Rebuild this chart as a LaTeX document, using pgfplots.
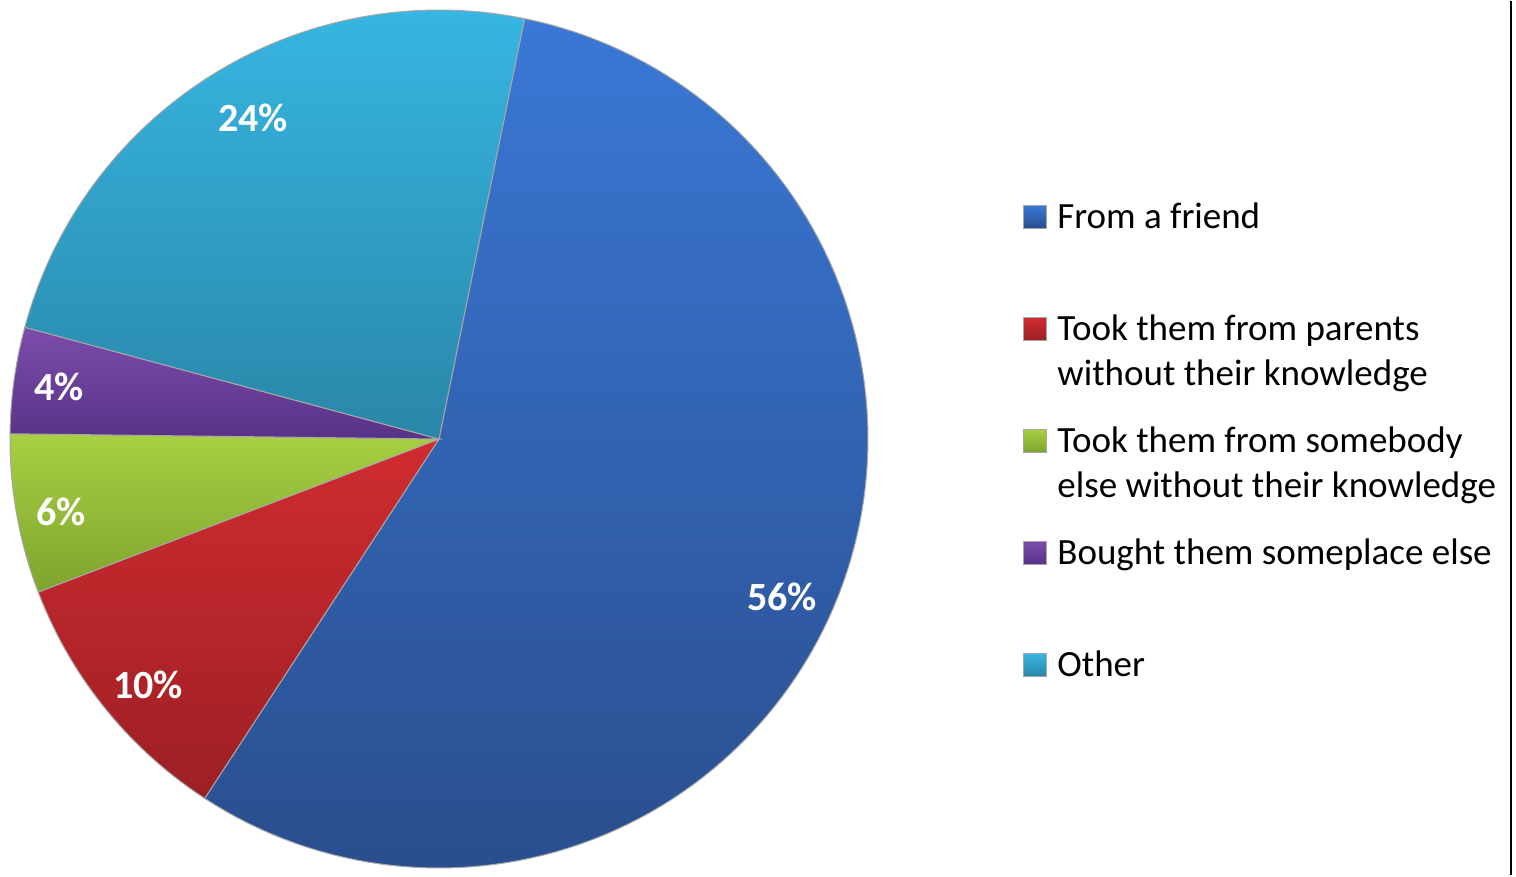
\documentclass[border=0pt]{standalone}
\usepackage{pgfplots}
\pgfplotsset{compat=1.18}
\usepackage{pgfplotstable}
\usepackage{fontspec}
\setmainfont{Carlito}

\definecolor{friendT}{HTML}{3A78D6}\definecolor{friendB}{HTML}{2A4E8E}
\definecolor{parentT}{HTML}{D02C30}\definecolor{parentB}{HTML}{9C1F24}
\definecolor{someT}{HTML}{A8D042}\definecolor{someB}{HTML}{7EA42E}
\definecolor{boughtT}{HTML}{7C4CAC}\definecolor{boughtB}{HTML}{583286}
\definecolor{otherT}{HTML}{36B6E2}\definecolor{otherB}{HTML}{2A86A8}

\pgfplotstableread{
label value
friend 56
parents 10
somebody 6
bought 4
other 24
}\piedata

\pgfplotstablegetelem{0}{value}\of\piedata\edef\vA{\pgfplotsretval}
\pgfplotstablegetelem{1}{value}\of\piedata\edef\vB{\pgfplotsretval}
\pgfplotstablegetelem{2}{value}\of\piedata\edef\vC{\pgfplotsretval}
\pgfplotstablegetelem{3}{value}\of\piedata\edef\vD{\pgfplotsretval}
\pgfplotstablegetelem{4}{value}\of\piedata\edef\vE{\pgfplotsretval}

\def\aS{78.5}
\pgfmathsetmacro\aA{\aS-3.6*\vA}
\pgfmathsetmacro\aB{\aA-3.6*\vB}
\pgfmathsetmacro\aC{\aB-3.6*\vC}
\pgfmathsetmacro\aD{\aC-3.6*\vD}
\pgfmathsetmacro\aE{\aD-3.6*\vE}
\def\lr{0.88}
\pgfmathsetmacro\lxA{\lr*cos((\aS+\aA)/2)-0.014}\pgfmathsetmacro\lyA{\lr*sin((\aS+\aA)/2)-0.034}
\pgfmathsetmacro\lxB{\lr*cos((\aA+\aB)/2)+0.007}\pgfmathsetmacro\lyB{\lr*sin((\aA+\aB)/2)-0.021}
\pgfmathsetmacro\lxC{\lr*cos((\aB+\aC)/2)-0.014}\pgfmathsetmacro\lyC{\lr*sin((\aB+\aC)/2)-0.016}
\pgfmathsetmacro\lxD{\lr*cos((\aC+\aD)/2)-0.014}\pgfmathsetmacro\lyD{\lr*sin((\aC+\aD)/2)}
\pgfmathsetmacro\lxE{\lr*cos((\aD+\aE)/2)+0.029}\pgfmathsetmacro\lyE{\lr*sin((\aD+\aE)/2)}

\begin{document}
\begin{tikzpicture}
\begin{axis}[
  scale only axis, width=758pt, height=437pt,
  xmin=-1.0233, xmax=2.5105, ymin=-1.0163, ymax=1.0210,
  hide axis, clip=false,
  legend cell align=left,
  legend style={at={(axis cs:1.3613,0.6492)}, anchor=north west,
    draw=none, fill=none, inner sep=0pt, row sep=0pt,
    font=\fontsize{18.5}{22.5}\selectfont,
    nodes={inner sep=0pt, text height=33.75pt, text depth=22.25pt}},
  legend image code/.code={\fill[#1] (0pt,-5.75pt) rectangle (11.5pt,5.75pt); \path (16.5pt,0pt);},
  slice/.style={draw=black!35, line width=0.5pt, samples=120, variable=\t},
]
\path (rel axis cs:0,0) rectangle (rel axis cs:1,1);
\addplot[slice, top color=friendT, bottom color=friendB, domain=\aA:\aS] ({cos(\t)},{sin(\t)}) -- (axis cs:0,0) -- cycle;
\addlegendentry{From a friend}
\addplot[slice, top color=parentT, bottom color=parentB, domain=\aB:\aA] ({cos(\t)},{sin(\t)}) -- (axis cs:0,0) -- cycle;
\addlegendentry{\parbox[t]{225pt}{Took them from parents\newline without their knowledge}}
\addplot[slice, top color=someT, bottom color=someB, domain=\aC:\aB] ({cos(\t)},{sin(\t)}) -- (axis cs:0,0) -- cycle;
\addlegendentry{\parbox[t]{225pt}{Took them from somebody\newline else without their knowledge}}
\addplot[slice, top color=boughtT, bottom color=boughtB, domain=\aD:\aC] ({cos(\t)},{sin(\t)}) -- (axis cs:0,0) -- cycle;
\addlegendentry{Bought them someplace else}
\addplot[slice, top color=otherT, bottom color=otherB, domain=\aE:\aD] ({cos(\t)},{sin(\t)}) -- (axis cs:0,0) -- cycle;
\addlegendentry{Other}

\begin{scope}[every node/.style={font=\fontsize{20}{24}\selectfont\bfseries, text=white}]
\node at (axis cs:\lxA,\lyA) {\vA\%};
\node at (axis cs:\lxB,\lyB) {\vB\%};
\node at (axis cs:\lxC,\lyC) {\vC\%};
\node at (axis cs:\lxD,\lyD) {\vD\%};
\node at (axis cs:\lxE,\lyE) {\vE\%};
\end{scope}
\draw[black, line width=1pt] (axis cs:2.4988,-1.0163) -- (axis cs:2.4988,1.0210);
\end{axis}
\end{tikzpicture}
\end{document}
